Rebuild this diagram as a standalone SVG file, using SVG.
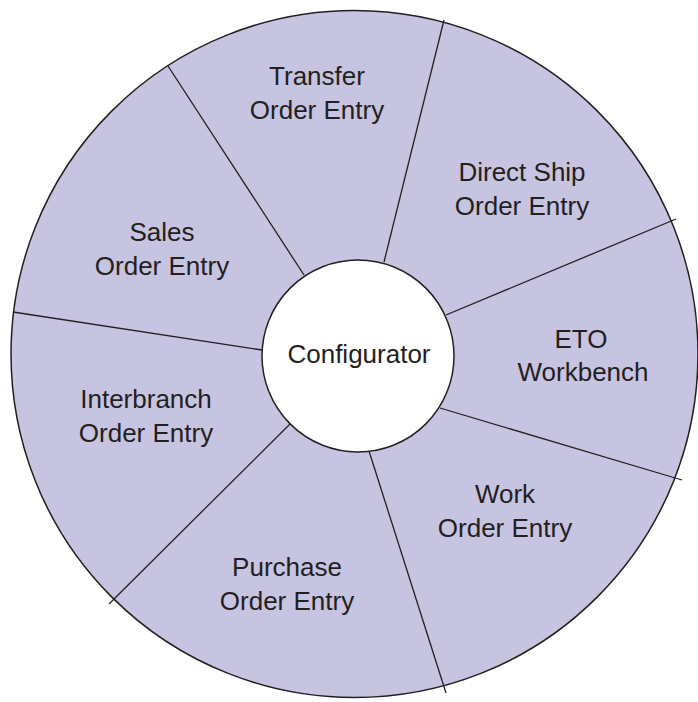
<svg xmlns="http://www.w3.org/2000/svg" width="698" height="702" viewBox="0 0 698 702">
<style>
.t{font-family:"Liberation Sans",Arial,sans-serif;font-size:26px;fill:#231f20;text-anchor:middle}
.sp{stroke:#231f20;stroke-width:1.3;fill:none}
</style>
<rect width="698" height="702" fill="#fff"/>
<g id="wheel">
<circle cx="354.5" cy="354" r="343.5" fill="#c7c4e1" stroke="#231f20" stroke-width="1.5"/>
</g>
<g id="connectors">
<line class="sp" x1="304" y1="275" x2="168" y2="66"/>
<line class="sp" x1="384" y1="262" x2="444" y2="20"/>
<line class="sp" x1="446" y1="315" x2="676" y2="219"/>
<line class="sp" x1="440" y1="408" x2="682" y2="480"/>
<line class="sp" x1="369" y1="451" x2="446" y2="693"/>
<line class="sp" x1="290" y1="424" x2="109" y2="604"/>
<line class="sp" x1="262" y1="350" x2="13" y2="312"/>
</g>
<g id="transfer"><text class="t" x="317" y="85">Transfer</text><text class="t" x="317" y="119">Order Entry</text></g>
<g id="directship"><text class="t" x="522" y="181">Direct Ship</text><text class="t" x="522" y="215">Order Entry</text></g>
<g id="sales"><text class="t" x="162" y="241">Sales</text><text class="t" x="162" y="275">Order Entry</text></g>
<g id="eto"><text class="t" x="581" y="348">ETO</text><text class="t" x="583" y="381">Workbench</text></g>
<g id="interbranch"><text class="t" x="146" y="408">Interbranch</text><text class="t" x="146" y="442">Order Entry</text></g>
<g id="work"><text class="t" x="505" y="503">Work</text><text class="t" x="505" y="537">Order Entry</text></g>
<g id="purchase"><text class="t" x="287" y="576">Purchase</text><text class="t" x="287" y="610">Order Entry</text></g>
<g id="configurator">
<circle cx="358" cy="356" r="96" fill="#fff" stroke="#231f20" stroke-width="1.5"/>
<text class="t" x="359" y="363">Configurator</text>
</g>
</svg>
